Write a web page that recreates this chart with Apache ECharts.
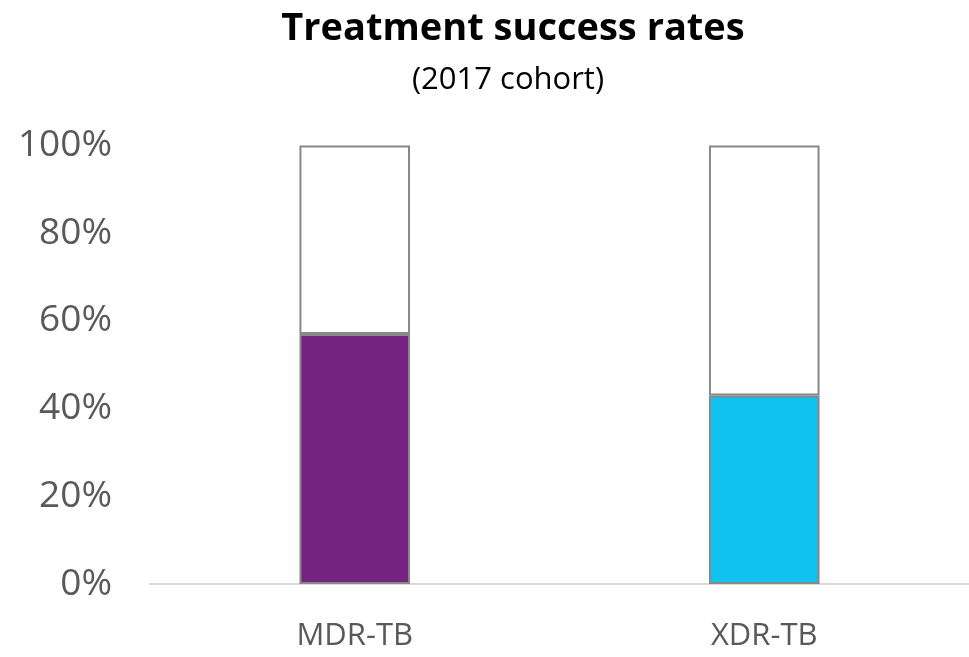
<!DOCTYPE html>
<html><head><meta charset="utf-8">
<script src="https://cdn.jsdelivr.net/npm/echarts@6/dist/echarts.min.js"></script>
<style>html,body{margin:0;padding:0;background:#fff}#c{width:969px;height:657px}</style>
</head><body><div id="c"></div>
<script>
const categories = ['MDR-TB', 'XDR-TB'];
const successRates = [57, 43];
const barColors = ['#762281', '#0FC2F0'];
const remainder = successRates.map(v => 100 - v);
const yTicks = [0, 20, 40, 60, 80, 100];

const chart = echarts.init(document.getElementById('c'));
chart.setOption({
  animation: false,
  title: [{
    text: 'Treatment success rates', left: 508, top: 5, textAlign: 'center',
    textStyle: { fontFamily: 'Open Sans', fontWeight: 'bold', fontSize: 38, color: '#000' }
  }, {
    text: '(2017 cohort)', left: 503, top: 60, textAlign: 'center',
    textStyle: { fontFamily: 'Open Sans', fontWeight: 'normal', fontSize: 31, color: '#000' }
  }],
  grid: { left: 150, right: -9, top: 145.5, bottom: 73 },
  xAxis: {
    type: 'category', data: categories,
    axisLine: { lineStyle: { color: '#d9d9d9', width: 2 } },
    axisTick: { show: false },
    axisLabel: { fontFamily: 'Open Sans', fontSize: 31, color: '#595959', margin: 37 }
  },
  yAxis: {
    type: 'value', min: 0, max: 100, interval: 20,
    splitLine: { show: false }, axisLine: { show: false }, axisTick: { show: false },
    axisLabel: { fontFamily: 'Open Sans', fontSize: 37, color: '#595959', margin: 38,
      formatter: v => yTicks.includes(v) ? v + '%' : '' }
  },
  series: [{
    type: 'bar', stack: 'a', barWidth: '27%',
    data: successRates.map((v, i) => ({ value: v, itemStyle: { color: barColors[i] } })),
    itemStyle: { borderColor: '#888888', borderWidth: 2 }
  }, {
    type: 'bar', stack: 'a', barWidth: '27%',
    data: remainder,
    itemStyle: { color: '#ffffff', borderColor: '#888888', borderWidth: 2 }
  }]
});
</script></body></html>
